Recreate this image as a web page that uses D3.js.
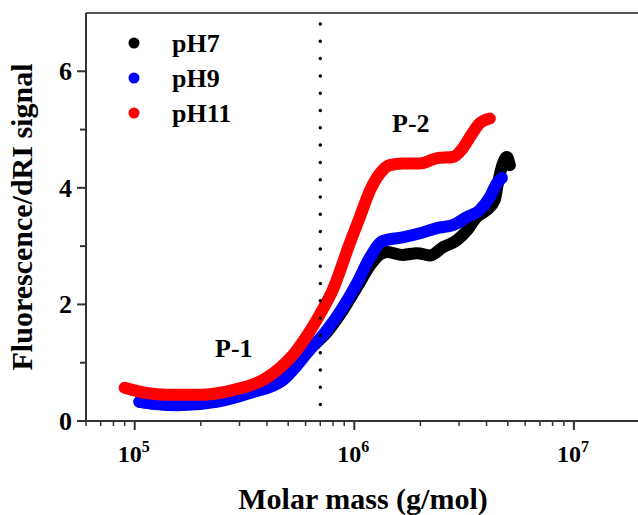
<!doctype html>
<html>
  <head>
    <meta charset="utf-8">
    <title>Fluorescence/dRI vs molar mass</title>
    <script src="https://d3js.org/d3.v7.min.js"></script>
    <style>
      body { margin: 0; background: #fff; }
      text { font-family: "Liberation Serif", "Times New Roman", serif; font-weight: bold; fill: #000; }
    </style>
  </head>
  <body>
  <script>
    // pH 7 (black)
    var massPH7 = [1.05e5, 1.30e5, 1.55e5, 2.36e5, 3.34e5, 4.72e5, 6.27e5, 7.50e5, 8.87e5, 1.03e6, 1.18e6, 1.30e6, 1.41e6, 1.66e6, 1.93e6, 2.21e6, 2.53e6, 2.93e6, 3.26e6, 3.61e6, 4.01e6, 4.36e6, 4.51e6, 4.75e6, 4.95e6, 5.11e6];
    var signalPH7 = [0.33, 0.29, 0.28, 0.34, 0.50, 0.76, 1.24, 1.52, 1.90, 2.30, 2.67, 2.85, 2.90, 2.85, 2.88, 2.84, 2.98, 3.10, 3.27, 3.50, 3.62, 3.79, 4.08, 4.42, 4.53, 4.39];

    // pH 9 (blue)
    var massPH9 = [1.05e5, 1.25e5, 1.55e5, 2.36e5, 3.34e5, 4.72e5, 6.27e5, 7.50e5, 8.87e5, 1.03e6, 1.18e6, 1.35e6, 1.66e6, 1.99e6, 2.38e6, 2.81e6, 3.26e6, 3.73e6, 4.14e6, 4.46e6, 4.70e6];
    var signalPH9 = [0.33, 0.29, 0.27, 0.33, 0.48, 0.70, 1.22, 1.56, 1.95, 2.37, 2.81, 3.09, 3.15, 3.22, 3.31, 3.36, 3.50, 3.62, 3.84, 4.08, 4.17];

    // pH 11 (red)
    var massPH11 = [9.0e4, 1.13e5, 1.40e5, 1.98e5, 2.80e5, 3.99e5, 4.58e5, 5.25e5, 6.08e5, 6.97e5, 7.98e5, 9.54e5, 1.06e6, 1.18e6, 1.31e6, 1.45e6, 1.66e6, 1.99e6, 2.38e6, 2.81e6, 3.12e6, 3.36e6, 3.73e6, 4.14e6];
    var signalPH11 = [0.57, 0.48, 0.45, 0.45, 0.53, 0.74, 0.91, 1.13, 1.46, 1.83, 2.25, 3.05, 3.50, 3.96, 4.25, 4.39, 4.42, 4.42, 4.51, 4.53, 4.68, 4.87, 5.11, 5.19];

    var seriesNames = ["pH7", "pH9", "pH11"];
    var seriesColors = ["#000000", "#0000ff", "#ff0000"];
    var yTicks = [0, 2, 4, 6];
    var yMinorTicks = [1, 3, 5];
    var xDecades = [5, 6, 7];
    var dividerMass = 7e5;

    var width = 638, height = 515;
    // plot box (the right edge falls just outside the picture)
    var plotLeft = 86, plotRight = 640, plotTop = 13, plotBottom = 421;

    var svg = d3.select("body").append("svg")
        .attr("width", width)
        .attr("height", height);

    var x = d3.scaleLog()
      .domain([6e4, 2e7])
      .range([plotLeft, plotRight]);

    var y = d3.scaleLinear()
      .domain([0, 7])
      .range([plotBottom, plotTop]);

    // minor x ticks: 2..9 times each decade inside the domain
    var xMinor = [];
    [4, 5, 6, 7].forEach(function(p){
      for (var k = 2; k <= 9; k++){
        var v = k * Math.pow(10, p);
        if (v >= 6e4 && v <= 2e7) xMinor.push(v);
      }
    });
    var xMajor = xDecades.map(function(p){ return Math.pow(10, p); });

    // series
    var line = d3.line()
      .x(function(d){ return x(d[0]); })
      .y(function(d){ return y(d[1]); })
      .curve(d3.curveMonotoneX);

    var series = [
      d3.zip(massPH7, signalPH7),
      d3.zip(massPH9, signalPH9),
      d3.zip(massPH11, signalPH11)
    ];

    svg.selectAll(".series")
        .data(series)
      .enter().append("path")
        .attr("class", "series")
        .attr("d", line)
        .attr("fill", "none")
        .attr("stroke", function(d, i){ return seriesColors[i]; })
        .attr("stroke-width", 12)
        .attr("stroke-linecap", "round")
        .attr("stroke-linejoin", "round");

    // dotted divider
    svg.append("line")
        .attr("x1", x(dividerMass)).attr("x2", x(dividerMass))
        .attr("y1", plotTop + 11).attr("y2", plotBottom)
        .attr("stroke", "#000")
        .attr("stroke-width", 3.5)
        .attr("stroke-linecap", "round")
        .attr("stroke-dasharray", "0,17.3");

    // frame
    svg.append("line")
        .attr("x1", plotLeft).attr("x2", plotRight)
        .attr("y1", plotTop).attr("y2", plotTop)
        .attr("stroke", "#555").attr("stroke-width", 2);

    // y axis
    var gy = svg.append("g").attr("class", "y axis");
    gy.append("line")
        .attr("x1", plotLeft).attr("x2", plotLeft)
        .attr("y1", plotTop).attr("y2", plotBottom + 1)
        .attr("stroke", "#333").attr("stroke-width", 2);
    gy.selectAll(".major")
        .data(yTicks)
      .enter().append("line")
        .attr("x1", plotLeft - 9).attr("x2", plotLeft)
        .attr("y1", function(d){ return y(d); })
        .attr("y2", function(d){ return y(d); })
        .attr("stroke", "#333").attr("stroke-width", 2);
    gy.selectAll(".minor")
        .data(yMinorTicks)
      .enter().append("line")
        .attr("x1", plotLeft - 6).attr("x2", plotLeft)
        .attr("y1", function(d){ return y(d); })
        .attr("y2", function(d){ return y(d); })
        .attr("stroke", "#333").attr("stroke-width", 2);
    gy.selectAll("text")
        .data(yTicks)
      .enter().append("text")
        .attr("x", plotLeft - 14)
        .attr("y", function(d){ return y(d); })
        .attr("dy", 9)
        .attr("text-anchor", "end")
        .style("font-size", "26px")
        .text(function(d){ return d; });

    // x axis
    var gx = svg.append("g").attr("class", "x axis");
    gx.append("line")
        .attr("x1", plotLeft - 1).attr("x2", plotRight)
        .attr("y1", plotBottom).attr("y2", plotBottom)
        .attr("stroke", "#333").attr("stroke-width", 2);
    gx.selectAll(".major")
        .data(xMajor)
      .enter().append("line")
        .attr("x1", function(d){ return x(d); })
        .attr("x2", function(d){ return x(d); })
        .attr("y1", plotBottom).attr("y2", plotBottom + 9)
        .attr("stroke", "#333").attr("stroke-width", 2);
    gx.selectAll(".minor")
        .data(xMinor)
      .enter().append("line")
        .attr("x1", function(d){ return x(d); })
        .attr("x2", function(d){ return x(d); })
        .attr("y1", plotBottom).attr("y2", plotBottom + 5)
        .attr("stroke", "#333").attr("stroke-width", 1.5);
    var xl = gx.selectAll(".label")
        .data(xDecades)
      .enter().append("text")
        .attr("class", "label")
        .attr("x", function(p){ return x(Math.pow(10, p)) - 1; })
        .attr("y", plotBottom + 41)
        .attr("text-anchor", "middle")
        .style("font-size", "24px");
    xl.append("tspan").text("10");
    xl.append("tspan")
        .attr("dy", -10)
        .style("font-size", "16px")
        .text(function(p){ return p; });

    // axis titles
    svg.append("text")
        .attr("x", (plotLeft + plotRight) / 2)
        .attr("y", 509)
        .attr("text-anchor", "middle")
        .style("font-size", "30px")
        .text("Molar mass (g/mol)");

    svg.append("text")
        .attr("transform", "translate(32," + ((plotTop + plotBottom) / 2) + ") rotate(-90)")
        .attr("text-anchor", "middle")
        .style("font-size", "30px")
        .text("Fluorescence/dRI signal");

    // peak labels
    svg.append("text")
        .attr("x", 215).attr("y", 357)
        .style("font-size", "26px")
        .text("P-1");
    svg.append("text")
        .attr("x", 392).attr("y", 132)
        .style("font-size", "26px")
        .text("P-2");

    // legend
    var legend = svg.selectAll(".legend")
        .data(seriesNames)
      .enter().append("g")
        .attr("class", "legend")
        .attr("transform", function(d, i){ return "translate(134," + (43 + i * 35) + ")"; });
    legend.append("circle")
        .attr("r", 5.5)
        .attr("fill", function(d, i){ return seriesColors[i]; });
    legend.append("text")
        .attr("x", 38)
        .attr("y", 9)
        .style("font-size", "26px")
        .text(function(d){ return d; });
  </script>
  </body>
</html>
